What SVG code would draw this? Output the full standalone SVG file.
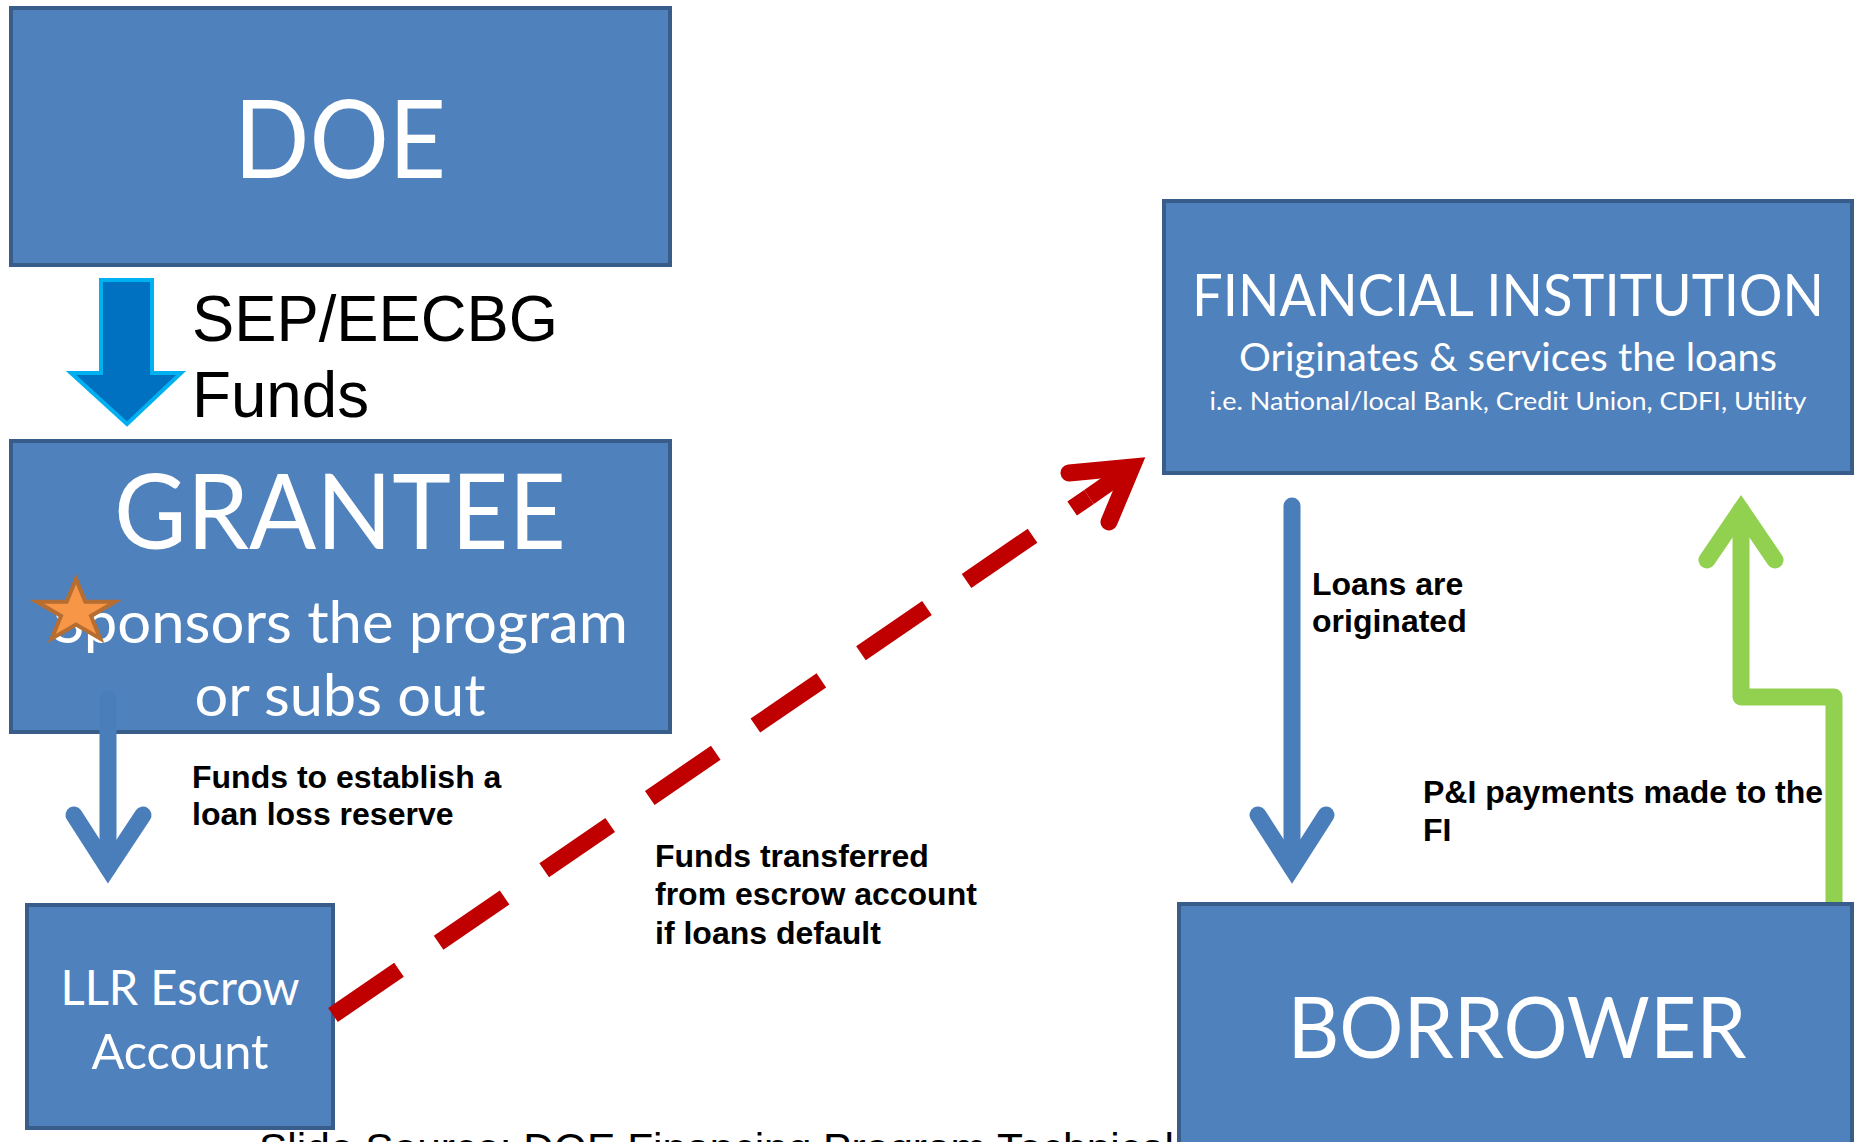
<svg xmlns="http://www.w3.org/2000/svg" width="1858" height="1142" viewBox="0 0 1858 1142">
  <style>
    .box { fill: #4F81BD; stroke: #385D8A; stroke-width: 4; }
    .cal { font-family: Lato, "Open Sans", sans-serif; fill: #FFFFFF; text-anchor: middle; }
    .lbl { font-family: "Liberation Sans", Arial, sans-serif; font-weight: bold; font-size: 32px; fill: #000000; }
    .reg { font-family: "Liberation Sans", Arial, sans-serif; fill: #000000; }
    .thin { fill: none; stroke: #4A7EBB; stroke-width: 17; stroke-linecap: round; stroke-linejoin: miter; stroke-miterlimit: 10; }
    .green { fill: none; stroke: #92D050; stroke-width: 17; stroke-linecap: round; stroke-linejoin: round; }
    .greenhead { fill: none; stroke: #92D050; stroke-width: 17; stroke-linecap: round; stroke-linejoin: miter; stroke-miterlimit: 10; }
    .red { fill: none; stroke: #C00000; stroke-width: 17; }
  </style>

  <!-- footer text (partly hidden) -->
  <text class="reg" x="259" y="1163" font-size="42" textLength="915" lengthAdjust="spacingAndGlyphs">Slide Source: DOE Financing Program Technical</text>

  <g id="doe">
    <rect class="box" x="11" y="8" width="659" height="257"/>
    <text class="cal" x="340" y="178" font-size="108" textLength="212" lengthAdjust="spacingAndGlyphs">DOE</text>
  </g>

  <g id="grantee">
    <rect class="box" x="11" y="441" width="659" height="291"/>
    <text class="cal" x="340" y="549" font-size="105" textLength="452" lengthAdjust="spacingAndGlyphs">GRANTEE</text>
    <text class="cal" x="340" y="643" font-size="58" textLength="576" lengthAdjust="spacingAndGlyphs">Sponsors the program</text>
    <text class="cal" x="340" y="716" font-size="58" textLength="291" lengthAdjust="spacingAndGlyphs">or subs out</text>
    <polygon points="76,579 85.3,601.8 115.2,601.8 91,615.9 100.3,638.7 76,624.6 51.7,638.7 61,615.9 36.8,601.8 66.7,601.8" fill="#F79646" stroke="#B66D31" stroke-width="4" stroke-linejoin="miter"/>
  </g>

  <g id="llr">
    <rect class="box" x="27" y="905" width="306" height="223"/>
    <text class="cal" x="180" y="1005" font-size="48" textLength="239" lengthAdjust="spacingAndGlyphs">LLR Escrow</text>
    <text class="cal" x="180" y="1069" font-size="48" textLength="177" lengthAdjust="spacingAndGlyphs">Account</text>
  </g>

  <g id="fi">
    <rect class="box" x="1164" y="201" width="688" height="272"/>
    <text class="cal" x="1508" y="316" font-size="58" textLength="632" lengthAdjust="spacingAndGlyphs">FINANCIAL INSTITUTION</text>
    <text class="cal" x="1508" y="371" font-size="38" textLength="538" lengthAdjust="spacingAndGlyphs">Originates &amp; services the loans</text>
    <text class="cal" x="1508" y="410" font-size="25" textLength="597" lengthAdjust="spacingAndGlyphs">i.e. National/local Bank, Credit Union, CDFI, Utility</text>
  </g>

  <g id="connectors">
    <!-- DOE to GRANTEE block arrow -->
    <polygon points="101,280 152,280 152,373 181,373 127,424 71,373 101,373" fill="#0070C0" stroke="#00B0F0" stroke-width="4" stroke-linejoin="miter"/>
    <!-- GRANTEE to LLR -->
    <line class="thin" x1="108" y1="699" x2="108" y2="868" stroke-linecap="butt"/>
    <polyline class="thin" points="74,815 108,868 143,815"/>
    <!-- FI to BORROWER -->
    <line class="thin" x1="1292" y1="506" x2="1292" y2="868" stroke-linecap="butt"/>
    <polyline class="thin" points="1258,815 1292,868 1326,815"/>
    <!-- BORROWER to FI (green) -->
    <polyline class="green" points="1834,906 1834,697 1741,697 1741,510" stroke-linecap="butt"/>
    <polyline class="greenhead" points="1707,560 1741,510 1775,560"/>
    <!-- LLR to FI (red dashed) -->
    <line class="red" x1="333" y1="1015" x2="1089" y2="497" stroke-dasharray="80 48"/>
    <line class="red" x1="1089" y1="497" x2="1132" y2="467"/>
    <polyline class="red" points="1069,473 1132,467 1109,522" stroke-linecap="round" stroke-linejoin="miter" stroke-miterlimit="10"/>
  </g>

  <g id="borrower">
    <rect class="box" x="1179" y="904" width="673" height="250"/>
    <text class="cal" x="1517" y="1058" font-size="85" textLength="459" lengthAdjust="spacingAndGlyphs">BORROWER</text>
  </g>

  <g id="labels">
    <text class="reg" x="192" y="341" font-size="64" textLength="366" lengthAdjust="spacingAndGlyphs">SEP/EECBG</text>
    <text class="reg" x="192" y="417" font-size="64" textLength="177" lengthAdjust="spacingAndGlyphs">Funds</text>
    <text class="lbl" x="192" y="788">Funds to establish a</text>
    <text class="lbl" x="192" y="825">loan loss reserve</text>
    <text class="lbl" x="1312" y="595">Loans are</text>
    <text class="lbl" x="1312" y="632">originated</text>
    <text class="lbl" x="1423" y="803">P&amp;I payments made to the</text>
    <text class="lbl" x="1423" y="841">FI</text>
    <text class="lbl" x="655" y="867">Funds transferred</text>
    <text class="lbl" x="655" y="905">from escrow account</text>
    <text class="lbl" x="655" y="944">if loans default</text>
  </g>
</svg>
